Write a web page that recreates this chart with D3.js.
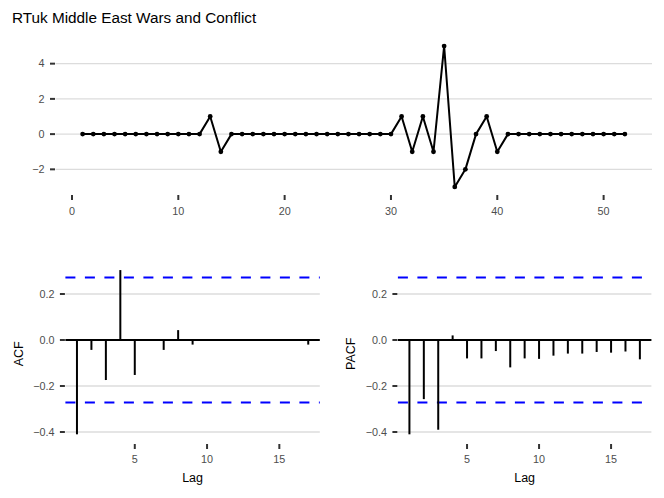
<!DOCTYPE html>
<html><head><meta charset="utf-8">
<script src="https://cdn.jsdelivr.net/npm/d3@7"></script>
<style>body{margin:0;background:#fff}svg{display:block;font-family:"Liberation Sans",Arial,sans-serif}</style>
</head><body><svg id="c" width="664" height="498"></svg>
<script>
const title = "RTuk Middle East Wars and Conflict";
const seriesValues = [0,0,0,0,0,0,0,0,0,0,0,0,1,-1,0,0,0,0,0,0,0,0,0,0,0,0,0,0,0,0,1,-1,1,-1,5,-3,-2,0,1,-1,0,0,0,0,0,0,0,0,0,0,0,0];
const lags = [1,2,3,4,5,6,7,8,9,10,11,12,13,14,15,16,17];
const acfValues = [-0.41,-0.043,-0.174,0.304,-0.152,-0.003,-0.043,0.043,-0.02,-0.003,-0.003,-0.003,-0.003,-0.003,-0.003,-0.003,-0.02];
const pacfValues = [-0.41,-0.257,-0.39,0.02,-0.08,-0.08,-0.048,-0.119,-0.08,-0.082,-0.068,-0.059,-0.059,-0.052,-0.055,-0.05,-0.084];
const ciLimit = 1.96/Math.sqrt(seriesValues.length);
const topXTicks = [0,10,20,30,40,50];
const topYTicks = [-2,0,2,4];
const lagTicks = [5,10,15];
const corrYTicks = [-0.4,-0.2,0.0,0.2];

const svg = d3.select("#c");
const gridCol = "#dcdcdc", tickCol = "#333333", labCol = "#4d4d4d";
const tickFont = 10.8, axisFont = 12.5;
const fmtMinus = s => s.replace("-", "\u2212");

svg.append("text").attr("x",12).attr("y",23).attr("font-size",15.3).attr("fill","#000").text(title);

// top panel
const tx = d3.scaleLinear().domain([-1.55,54.55]).range([55.5,652]);
const ty = d3.scaleLinear().domain([-3.4,5.4]).range([194,39]);
const topG = svg.append("g");
topG.selectAll(".g").data(topYTicks).join("line")
  .attr("x1",tx.range()[0]).attr("x2",tx.range()[1])
  .attr("y1",d=>ty(d)).attr("y2",d=>ty(d)).attr("stroke",gridCol).attr("stroke-width",1.4);
topG.selectAll(".yt").data(topYTicks).join("line")
  .attr("x1",50).attr("x2",55).attr("y1",d=>ty(d)).attr("y2",d=>ty(d))
  .attr("stroke",tickCol).attr("stroke-width",2);
topG.selectAll(".yl").data(topYTicks).join("text")
  .attr("x",44.5).attr("y",d=>ty(d)).attr("dy","0.35em").attr("text-anchor","end")
  .attr("font-size",tickFont).attr("fill",labCol).text(d=>fmtMinus(String(d)));
topG.selectAll(".xt").data(topXTicks).join("line")
  .attr("x1",d=>tx(d)).attr("x2",d=>tx(d)).attr("y1",195).attr("y2",200)
  .attr("stroke",tickCol).attr("stroke-width",2);
topG.selectAll(".xl").data(topXTicks).join("text")
  .attr("x",d=>tx(d)).attr("y",211).attr("dy","0.35em").attr("text-anchor","middle")
  .attr("font-size",tickFont).attr("fill",labCol).text(d=>d);
const line = d3.line().x((d,i)=>tx(i+1)).y(d=>ty(d));
topG.append("path").datum(seriesValues).attr("d",line).attr("fill","none")
  .attr("stroke","#000").attr("stroke-width",2).attr("stroke-linejoin","round");
topG.selectAll(".pt").data(seriesValues).join("circle")
  .attr("cx",(d,i)=>tx(i+1)).attr("cy",d=>ty(d)).attr("r",2.4).attr("fill","#000");

// correlation panels
const cy = d3.scaleLinear().domain([-0.446,0.34]).range([442.6,261.8]);
function corrPanel(vals, x0, x1, name, titleX) {
  const x = d3.scaleLinear().domain([0.2,17.8]).range([x0,x1]);
  const g = svg.append("g");
  g.selectAll(".g").data(corrYTicks).join("line")
    .attr("x1",x0).attr("x2",x1).attr("y1",d=>cy(d)).attr("y2",d=>cy(d))
    .attr("stroke",gridCol).attr("stroke-width",1.4);
  g.selectAll(".yt").data(corrYTicks).join("line")
    .attr("x1",x0-5.5).attr("x2",x0-0.5).attr("y1",d=>cy(d)).attr("y2",d=>cy(d))
    .attr("stroke",tickCol).attr("stroke-width",2);
  g.selectAll(".yl").data(corrYTicks).join("text")
    .attr("x",x0-10.8).attr("y",d=>cy(d)).attr("dy","0.35em").attr("text-anchor","end")
    .attr("font-size",tickFont).attr("fill",labCol).text(d=>fmtMinus(d3.format(".1f")(d)));
  g.selectAll(".xt").data(lagTicks).join("line")
    .attr("x1",d=>x(d)).attr("x2",d=>x(d)).attr("y1",444).attr("y2",449)
    .attr("stroke",tickCol).attr("stroke-width",2);
  g.selectAll(".xl").data(lagTicks).join("text")
    .attr("x",d=>x(d)).attr("y",459).attr("dy","0.35em").attr("text-anchor","middle")
    .attr("font-size",tickFont).attr("fill",labCol).text(d=>d);
  g.selectAll(".ci").data([ciLimit,-ciLimit]).join("line")
    .attr("x1",x0).attr("x2",x1).attr("y1",d=>cy(d)).attr("y2",d=>cy(d))
    .attr("stroke","#0000ff").attr("stroke-width",2).attr("stroke-dasharray","10,9.5");
  g.append("line").attr("x1",x0).attr("x2",x1).attr("y1",cy(0)).attr("y2",cy(0))
    .attr("stroke","#000").attr("stroke-width",2);
  g.selectAll(".bar").data(vals).join("line")
    .attr("x1",(d,i)=>x(lags[i])).attr("x2",(d,i)=>x(lags[i]))
    .attr("y1",cy(0)).attr("y2",d=>cy(d)).attr("stroke","#000").attr("stroke-width",2);
  g.append("text").attr("x",(x0+x1)/2).attr("y",478).attr("dy","0.35em")
    .attr("text-anchor","middle").attr("font-size",axisFont).attr("fill","#000").text("Lag");
  g.append("text").attr("transform",`translate(${titleX},${cy(-0.06)}) rotate(-90)`)
    .attr("text-anchor","middle").attr("font-size",axisFont).attr("fill","#000").text(name);
}
corrPanel(acfValues, 65.4, 319.8, "ACF", 22.5);
corrPanel(pacfValues, 397.9, 651.4, "PACF", 354.5);
</script></body></html>
